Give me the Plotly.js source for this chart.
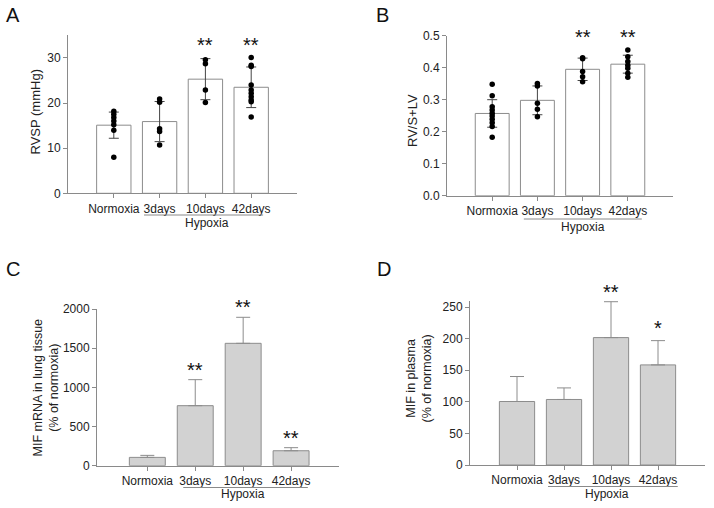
<!DOCTYPE html>
<html>
<head>
<meta charset="utf-8">
<script src="https://cdn.plot.ly/plotly-3.0.1.min.js"></script>
<style>html,body{margin:0;padding:0;background:#fff;}#chart{width:714px;height:508px;}</style>
</head>
<body>
<div id="chart"></div>
<script>
// ---------- data ----------
const categories = ['Normoxia', '3days', '10days', '42days'];

// Panel A: RVSP (mmHg)
const rvspMean = [15.1, 15.9, 25.3, 23.5];
const rvspSD = [2.9, 4.45, 4.55, 4.5];
const rvspNormoxia = [18.2, 17.5, 16.8, 16.0, 15.2, 14.0, 8.0];
const rvsp3days = [20.9, 20.2, 14.3, 13.7, 10.7];
const rvsp10days = [29.6, 28.7, 22.9, 20.1];
const rvsp42days = [30.1, 28.4, 28.1, 24.0, 22.9, 22.2, 21.4, 20.7, 20.3, 16.9];
const rvspStars = ['', '', '**', '**'];

// Panel B: RV/S+LV
const rvMean = [0.257, 0.298, 0.395, 0.411];
const rvSD = [0.043, 0.045, 0.035, 0.028];
const rvNormoxia = [0.348, 0.312, 0.278, 0.268, 0.258, 0.249, 0.239, 0.228, 0.216, 0.183];
const rv3days = [0.351, 0.343, 0.289, 0.270, 0.247];
const rv10days = [0.431, 0.428, 0.388, 0.372, 0.356];
const rv42days = [0.455, 0.434, 0.419, 0.408, 0.398, 0.383, 0.370];
const rvStars = ['', '', '**', '**'];

// Panel C: MIF mRNA in lung tissue (% of normoxia)
const lungMean = [106, 766, 1562, 191];
const lungSD = [26, 332, 332, 39];
const lungStars = ['', '**', '**', '**'];

// Panel D: MIF in plasma (% of normoxia)
const plasmaMean = [100.5, 103.7, 201.6, 158.4];
const plasmaSD = [39.5, 18.3, 56.8, 38.4];
const plasmaStars = ['', '', '**', '*'];

// Axis titles and group label
const titleA = 'RVSP (mmHg)';
const titleB = 'RV/S+LV';
const titleC = 'MIF mRNA in lung tissue<br>(% of normoxia)';
const titleD = 'MIF in plasma<br>(% of normoxia)';
const groupLabel = 'Hypoxia';

// ---------- styling ----------
const FONT = 'Liberation Sans, Arial, sans-serif';
const TXT = '#222';
const AX = '#8a8a8a';

function dots(groups, xa, ya) {
  const x = [], y = [];
  groups.forEach((g, i) => g.forEach(v => { x.push(categories[i]); y.push(v); }));
  return {type: 'scatter', mode: 'markers', x: x, y: y, xaxis: xa, yaxis: ya,
    marker: {color: '#000', size: 5.5}, hoverinfo: 'y', showlegend: false, cliponaxis: false};
}
function bars(mean, sd, xa, ya, fill, errColor, oneSided, capw) {
  const err = oneSided
    ? {type: 'data', symmetric: false, array: sd, arrayminus: sd.map(() => 0), color: errColor, thickness: 1, width: capw}
    : {type: 'data', array: sd, color: errColor, thickness: 1, width: capw};
  return {type: 'bar', x: categories, y: mean, xaxis: xa, yaxis: ya, width: 0.75,
    marker: {color: fill, line: {color: '#8c8c8c', width: 1}},
    error_y: err, showlegend: false};
}

const traces = [
  bars(rvspMean, rvspSD, 'x', 'y', '#ffffff', '#444', false, 5),
  dots([rvspNormoxia, rvsp3days, rvsp10days, rvsp42days], 'x', 'y'),
  bars(rvMean, rvSD, 'x2', 'y2', '#ffffff', '#444', false, 5),
  dots([rvNormoxia, rv3days, rv10days, rv42days], 'x2', 'y2'),
  bars(lungMean, lungSD, 'x3', 'y3', '#d2d2d2', '#8c8c8c', true, 7),
  bars(plasmaMean, plasmaSD, 'x4', 'y4', '#d2d2d2', '#8c8c8c', true, 7)
];

function xaxis(domain, range, anchor) {
  return {domain: domain, anchor: anchor, type: 'category', range: range,
    showline: true, linecolor: AX, linewidth: 1, ticks: 'outside', ticklen: 4, tickcolor: AX,
    showgrid: false, zeroline: false, fixedrange: true,
    tickfont: {family: FONT, size: 12, color: TXT}};
}
function yaxis(domain, range, dtick, anchor, fmt) {
  return {domain: domain, anchor: anchor, range: range, dtick: dtick, tick0: 0,
    showline: true, linecolor: AX, linewidth: 1, ticks: 'outside', ticklen: 4, tickcolor: AX,
    showgrid: false, zeroline: false, fixedrange: true, tickformat: fmt || '',
    tickfont: {family: FONT, size: 12, color: TXT}};
}

const annotations = [];
const shapes = [];
function letter(t, x, y) {
  annotations.push({text: t, xref: 'paper', yref: 'paper', x: x, y: y, xanchor: 'center', yanchor: 'middle',
    showarrow: false, font: {family: FONT, size: 20, color: '#111'}});
}
letter('A', 13.5 / 714, 1 - 15 / 508);
letter('B', 382 / 714, 1 - 15 / 508);
letter('C', 13.5 / 714, 1 - 269 / 508);
letter('D', 383.5 / 714, 1 - 269 / 508);

// rotated y-axis titles
function ytitle(t, xpx, ypx, size) {
  annotations.push({text: t, xref: 'paper', yref: 'paper', x: xpx / 714, y: 1 - ypx / 508,
    xanchor: 'center', yanchor: 'middle', textangle: -90, showarrow: false,
    font: {family: FONT, size: size, color: TXT}});
}
ytitle(titleA, 35, 112.5, 13);
ytitle(titleB, 412, 120, 13);
ytitle(titleC, 45.5, 388, 12.5);
ytitle(titleD, 418.5, 379, 12.5);

function stars(list, xa, ya, yvals, shift) {
  list.forEach((s, i) => {
    if (!s) return;
    annotations.push({text: s, xref: xa, yref: ya, x: categories[i], y: yvals[i],
      yshift: s === '*' ? shift + 3 : shift,
      xanchor: 'center', yanchor: 'bottom', showarrow: false,
      font: {family: FONT, size: 20, color: '#111'}});
  });
}
// A & B stars sit at a common height near the top of the axis
stars(rvspStars, 'x', 'y', categories.map(() => 29.9), 0);
stars(rvStars, 'x2', 'y2', categories.map(() => 0.454), 0);
// C & D stars sit just above each error bar
stars(lungStars, 'x3', 'y3', lungMean.map((m, i) => m + lungSD[i]), -3);
stars(plasmaStars, 'x4', 'y4', plasmaMean.map((m, i) => m + plasmaSD[i]), -3);

function hypoxia(xa, x0, x1, yline, ytext, xtext) {
  shapes.push({type: 'line', xref: xa, yref: 'paper', x0: x0, x1: x1, y0: 1 - yline / 508, y1: 1 - yline / 508,
    line: {color: AX, width: 1}});
  annotations.push({text: groupLabel, xref: xa, yref: 'paper', x: xtext, y: 1 - ytext / 508,
    xanchor: 'center', yanchor: 'middle', showarrow: false, font: {family: FONT, size: 12, color: TXT}});
}
hypoxia('x', 0.66, 3.26, 215, 222.5, 2.03);
hypoxia('x2', 0.70, 3.31, 219, 226.5, 2.0);
hypoxia('x3', 0.75, 3.35, 487.5, 493.5, 2.0);
hypoxia('x4', 0.66, 3.42, 486.5, 493.5, 1.91);

const layout = {
  width: 714, height: 508,
  margin: {l: 0, r: 0, t: 0, b: 0},
  paper_bgcolor: '#fff', plot_bgcolor: 'rgba(0,0,0,0)',
  font: {family: FONT, color: TXT},
  bargap: 0.25,
  showlegend: false,
  xaxis: xaxis([68 / 714, 297 / 714], [-1, 4], 'y'),
  yaxis: yaxis([1 - 193.3 / 508, 1 - 35.4 / 508], [0, 35], 10, 'x'),
  xaxis2: xaxis([447 / 714, 673 / 714], [-1, 4], 'y2'),
  yaxis2: yaxis([1 - 195.7 / 508, 1 - 35.7 / 508], [0, 0.5], 0.1, 'x2', '.1f'),
  xaxis3: xaxis([97 / 714, 339 / 714], [-1.05, 4], 'y3'),
  yaxis3: yaxis([1 - 465.7 / 508, 1 - 309 / 508], [0, 2000], 500, 'x3'),
  xaxis4: xaxis([470 / 714, 705 / 714], [-1, 4], 'y4'),
  yaxis4: yaxis([1 - 465 / 508, 1 - 300.7 / 508], [0, 260], 50, 'x4'),
  annotations: annotations,
  shapes: shapes
};

Plotly.newPlot('chart', traces, layout, {displayModeBar: false, staticPlot: true});
</script>
</body>
</html>
